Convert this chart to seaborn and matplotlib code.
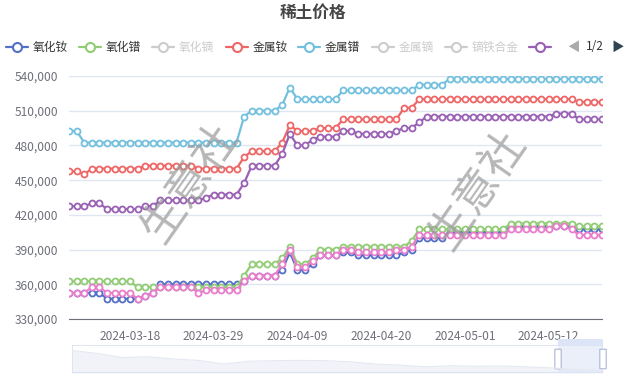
import matplotlib
matplotlib.use("Agg")
import matplotlib.pyplot as plt
import seaborn as sns
import pandas as pd
from matplotlib.lines import Line2D
from matplotlib.patches import Rectangle, FancyBboxPatch
from matplotlib.ticker import FuncFormatter

# 日付 (カテゴリ軸)
dates = pd.date_range("2024-03-10", "2024-05-19", freq="D")
tick_dates = ["2024-03-18", "2024-03-29", "2024-04-09", "2024-04-20", "2024-05-01", "2024-05-12"]

# 氧化钕
nd_oxide = [352500, 352500, 352500, 352500, 352500, 347500, 347500, 347500, 347500, 347500,
            350000, 352500, 360000, 360000, 360000, 360000, 360000, 360000, 360000, 360000,
            360000, 360000, 360000, 362500, 367500, 367500, 367500, 367500, 372500, 387500,
            372500, 372500, 377500, 385000, 385000, 385000, 387500, 387500, 385000, 385000,
            385000, 385000, 385000, 385000, 387500, 390000, 400000, 400000, 400000, 400000,
            405000, 405000, 405000, 405000, 405000, 405000, 405000, 405000, 410000, 410000,
            410000, 410000, 410000, 410000, 410000, 410000, 410000, 407500, 407500, 407500,
            407500]
# 氧化镨
pr_oxide = [362500, 362500, 362500, 362500, 362500, 362500, 362500, 362500, 362500, 357500,
            357500, 357500, 357500, 357500, 357500, 357500, 357500, 357500, 357500, 357500,
            357500, 357500, 357500, 367500, 377500, 377500, 377500, 377500, 382500, 392500,
            377500, 377500, 382500, 390000, 390000, 390000, 392500, 392500, 392500, 392500,
            392500, 392500, 392500, 392500, 392500, 397500, 407500, 407500, 407500, 407500,
            407500, 407500, 407500, 407500, 407500, 407500, 407500, 407500, 412500, 412500,
            412500, 412500, 412500, 412500, 412500, 412500, 412500, 410000, 410000, 410000,
            410000]
# 金属钕
nd_metal = [457500, 457500, 455000, 460000, 460000, 460000, 460000, 460000, 460000, 460000,
            462500, 462500, 462500, 462500, 462500, 462500, 462500, 460000, 460000, 460000,
            460000, 460000, 460000, 470000, 475000, 475000, 475000, 475000, 482500, 497500,
            492500, 492500, 492500, 495000, 495000, 495000, 502500, 502500, 502500, 502500,
            502500, 502500, 502500, 502500, 512500, 512500, 520000, 520000, 520000, 520000,
            520000, 520000, 520000, 520000, 520000, 520000, 520000, 520000, 520000, 520000,
            520000, 520000, 520000, 520000, 520000, 520000, 520000, 517500, 517500, 517500,
            517500]
# 金属镨
pr_metal = [492500, 492500, 482500, 482500, 482500, 482500, 482500, 482500, 482500, 482500,
            482500, 482500, 482500, 482500, 482500, 482500, 482500, 482500, 482500, 482500,
            482500, 482500, 482500, 505000, 510000, 510000, 510000, 510000, 515000, 530000,
            520000, 520000, 520000, 520000, 520000, 520000, 527500, 527500, 527500, 527500,
            527500, 527500, 527500, 527500, 527500, 527500, 532500, 532500, 532500, 532500,
            537500, 537500, 537500, 537500, 537500, 537500, 537500, 537500, 537500, 537500,
            537500, 537500, 537500, 537500, 537500, 537500, 537500, 537500, 537500, 537500,
            537500]
# 紫色系列
prnd_metal = [427500, 427500, 427500, 430000, 430000, 425000, 425000, 425000, 425000, 425000,
              427500, 427500, 432500, 432500, 432500, 432500, 432500, 432500, 435000, 437500,
              437500, 437500, 437500, 447500, 462500, 462500, 462500, 462500, 472500, 490000,
              480000, 480000, 485000, 487500, 487500, 487500, 492500, 492500, 490000, 490000,
              490000, 490000, 490000, 492500, 495000, 495000, 500000, 505000, 505000, 505000,
              505000, 505000, 505000, 505000, 505000, 505000, 505000, 505000, 505000, 505000,
              505000, 505000, 505000, 505000, 507500, 507500, 507500, 502500, 502500, 502500,
              502500]
# 粉色系列
prnd_oxide = [352500, 352500, 352500, 357500, 357500, 352500, 352500, 352500, 352500, 347500,
              350000, 352500, 357500, 357500, 357500, 357500, 357500, 352500, 355000, 355000,
              355000, 355000, 355000, 362500, 367500, 367500, 367500, 367500, 377500, 390000,
              375000, 375000, 380000, 385000, 385000, 385000, 390000, 390000, 387500, 387500,
              387500, 387500, 387500, 390000, 390000, 392500, 402500, 402500, 402500, 402500,
              402500, 402500, 402500, 402500, 402500, 402500, 402500, 402500, 407500, 407500,
              407500, 407500, 407500, 407500, 410000, 410000, 407500, 402500, 402500, 402500,
              402500]

# 凡例
legend_names = ["氧化钕", "氧化镨", "氧化镝", "金属钕", "金属镨", "金属镝", "镝铁合金", ""]
legend_colors = ["#5470c6", "#91cc75", "#cccccc", "#ee6666", "#73c0de", "#cccccc", "#cccccc", "#9a60b4"]
legend_x = [6, 79, 152, 226, 298, 372, 445, 529]

# 下部スライダーの影
shadow_values = [0.80, 0.70, 0.55, 0.58, 0.50, 0.45, 0.32, 0.42, 0.44, 0.45, 0.44,
                 0.40, 0.32, 0.28, 0.22, 0.26, 0.24, 0.25, 0.22, 0.18, 0.12, 0.10]

series = [
    (nd_oxide, "#5470c6"),
    (pr_oxide, "#91cc75"),
    (nd_metal, "#ee6666"),
    (pr_metal, "#73c0de"),
    (prnd_metal, "#9a60b4"),
    (prnd_oxide, "#ea7ccc"),
]

sns.set_style("white")
plt.rcParams["font.family"] = ["Noto Sans CJK SC", "DejaVu Sans"]

W, H = 627, 380
fig = plt.figure(figsize=(W / 100, H / 100), dpi=100)
ax = fig.add_axes([69 / W, 1 - 319 / H, (602 - 69) / W, (319 - 76) / H])

for vals, col in series:
    df = pd.DataFrame({"date": dates, "price": vals})
    sns.lineplot(data=df, x="date", y="price", ax=ax, color=col, linewidth=1.6,
                 marker="o", markersize=4.3, markerfacecolor="white",
                 markeredgecolor=col, markeredgewidth=1.3)

ax.set_xlim(dates[0], dates[-1])
ax.set_ylim(330000, 540000)
ax.set_yticks(range(330000, 540001, 30000))
ax.yaxis.set_major_formatter(FuncFormatter(lambda v, p: f"{int(v):,}"))
ax.set_xticks(pd.to_datetime(tick_dates))
ax.set_xticklabels(tick_dates)
ax.set_xlabel("")
ax.set_ylabel("")
ax.grid(axis="y", color="#e0e6f1", linewidth=1)
ax.set_axisbelow(True)
for s in ["top", "right", "left"]:
    ax.spines[s].set_visible(False)
ax.spines["bottom"].set_color("#6e7079")
ax.tick_params(axis="y", length=0, labelsize=8.6, labelcolor="#6e7079", pad=8)
ax.tick_params(axis="x", length=5, color="#6e7079", labelsize=8.6, labelcolor="#6e7079", pad=3)

# タイトル
fig.text(313 / W, 1 - 13 / H, "稀土价格", ha="center", va="center",
         fontsize=12, fontweight="bold", color="#464646")

# 凡例
ly = 1 - 47 / H
for name, col, x0 in zip(legend_names, legend_colors, legend_x):
    fig.add_artist(Line2D([x0 / W, (x0 + 22) / W], [ly, ly], color=col, linewidth=1.6,
                          transform=fig.transFigure))
    fig.add_artist(Line2D([(x0 + 11) / W], [ly], marker="o", markersize=6.5,
                          markerfacecolor="white", markeredgecolor=col, markeredgewidth=1.5,
                          transform=fig.transFigure))
    if name:
        txt_col = "#333333" if col != "#cccccc" else "#cccccc"
        fig.text((x0 + 27) / W, ly, name, ha="left", va="center", fontsize=8.5, color=txt_col)
fig.text(573 / W, ly, "◀", ha="center", va="center", fontsize=9, color="#aaaaaa")
fig.text(595 / W, ly, "1/2", ha="center", va="center", fontsize=8.5, color="#333333")
fig.text(618 / W, ly, "▶", ha="center", va="center", fontsize=9, color="#2f4554")

# 透かし
for cx, cy in [(190, 183), (478, 190)]:
    fig.text(cx / W, 1 - cy / H, "生意社", ha="center", va="center", rotation=55,
             fontsize=32, color="#999999", alpha=0.7, fontweight="light")

# データズームスライダー
sax = fig.add_axes([72 / W, 1 - 373 / H, (603 - 72) / W, (373 - 345) / H])
sax.set_xlim(0, 1)
sax.set_ylim(0, 1)
sax.axis("off")
sx = [i / (len(shadow_values) - 1) for i in range(len(shadow_values))]
sax.fill_between(sx, 0, shadow_values, color="#f1f3f9", linewidth=0)
sax.plot(sx, shadow_values, color="#e4e8f0", linewidth=0.8)
sax.add_patch(FancyBboxPatch((0, 0), 1, 1, boxstyle="round,pad=0,rounding_size=0.01",
                             facecolor="none", edgecolor="#d2dbee", linewidth=1))
sel0 = (558 - 72) / (603 - 72)
sax.add_patch(Rectangle((sel0, 0), 1 - sel0, 1, facecolor="#dce5f7", alpha=0.6,
                        edgecolor="none"))
for hx in [sel0, 1.0]:
    sax.add_patch(FancyBboxPatch((hx - 0.006, 0.15), 0.012, 0.7,
                                 boxstyle="round,pad=0,rounding_size=0.006",
                                 facecolor="white", edgecolor="#aab6d3", linewidth=0.8,
                                 clip_on=False))
fig.add_artist(Rectangle((558 / W, 1 - 345 / H), 45 / W, 6 / H, facecolor="#dce5f7",
                         edgecolor="none", transform=fig.transFigure))

fig.savefig("out.png", dpi=100)
